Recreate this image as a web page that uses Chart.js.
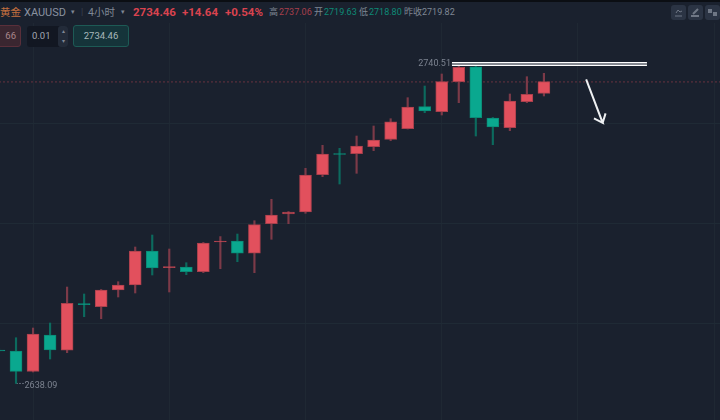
<!DOCTYPE html>
<html lang="zh">
<head>
<meta charset="UTF-8">
<title>XAUUSD 4小时</title>
<script src="https://cdn.jsdelivr.net/npm/chart.js"></script>
<style>
    html, body { margin: 0; padding: 0; background: #1a212e; }
    #wrap { position: relative; width: 720px; height: 420px; overflow: hidden; font-family: Roboto, "Noto Sans CJK SC", sans-serif; }
    #chart { position: absolute; left: 0; top: 0; }
    #head { position: absolute; left: 0; top: 0; width: 720px; height: 23px; background: #1a212e; border-top: 2px solid #0b0e13; box-sizing: border-box; }
    #head span, .box { position: absolute; white-space: nowrap; }
    #head span { top: 4px; font-size: 9px; line-height: 13px; color: #7f8794; }
    #head .big { top: 3px; font-size: 11.5px; line-height: 14px; font-weight: 700; color: #d9434f; }
    #head .up { color: #a83f4c; }
    #head .down { color: #0d8a76; }
    .box { top: 25px; height: 22px; box-sizing: border-box; border-radius: 3px; font-size: 9.5px; line-height: 20px; text-align: center; }
    .icon { position: absolute; top: 3px; width: 15px; height: 15px; border-radius: 3px; background: #2b3444; }
    .icon svg { display: block; }
</style>
</head>
<body>
<div id="wrap">
    <canvas id="chart" width="720" height="420"></canvas>
    <div id="head">
        <span style="left:0;color:#c4703f;font-size:10.5px">黄金</span>
        <span style="left:24px;font-size:11px;color:#8a92a0">XAUUSD</span>
        <span style="left:71px;font-size:7px">▾</span>
        <span style="left:81px;color:#3a4350">|</span>
        <span style="left:88px;font-size:10.5px">4小时</span>
        <span style="left:121px;font-size:7px">▾</span>
        <span class="big" style="left:133px">2734.46</span>
        <span class="big" style="left:182px">+14.64</span>
        <span class="big" style="left:225px">+0.54%</span>
        <span style="left:269px">高</span><span class="up" style="left:279px">2737.06</span>
        <span style="left:314px">开</span><span class="down" style="left:324px">2719.63</span>
        <span style="left:359px">低</span><span class="down" style="left:369px">2718.80</span>
        <span style="left:404px">昨收</span><span style="left:422px">2719.82</span>
        <div class="icon" style="left:671px"><svg width="15" height="15"><path d="M4 11h7M5 8l2-3 2 2 2-1" stroke="#6f7785" fill="none"/></svg></div>
        <div class="icon" style="left:688px"><svg width="15" height="15"><path d="M3 11h8M5 9l5-5" stroke="#6f7785" stroke-width="2" fill="none"/></svg></div>
        <div class="icon" style="left:705px"><svg width="15" height="15"><rect x="3" y="4" width="4" height="4" fill="#6f7785"/><rect x="8" y="7" width="4" height="4" fill="#6f7785"/></svg></div>
    </div>
    <div class="box" style="left:-20px;width:41px;background:#3a2630;border:1px solid #5a2f3a;color:#a9868c;text-align:right;padding-right:4px">66</div>
    <div class="box" style="left:27px;width:41px;top:26px;height:21px;line-height:19px;background:#121722;color:#a3a9b3;text-align:left;padding-left:5px">0.01</div>
    <div class="box" style="left:58px;width:10px;top:26px;height:21px;line-height:10px;background:#232b39;color:#7f8794;font-size:6px">▴<br>▾</div>
    <div class="box" style="left:73px;width:56px;background:#15343a;border:1px solid #1d5a55;color:#a9b8ba">2734.46</div>
</div>
<script>
// candle index, -1 is the half hidden one on the left edge
const candleIndex = [-1, 0, 1, 2, 3, 4, 5, 6, 7, 8, 9, 10, 11, 12, 13, 14, 15, 16, 17, 18, 19, 20, 21, 22, 23, 24, 25, 26, 27, 28, 29, 30, 31];
const opens = [2648.78, 2648.46, 2641.91, 2653.57, 2648.69, 2663.64, 2662.62, 2667.96, 2669.55, 2680.42, 2675.08, 2675.31, 2673.81, 2683.30, 2683.62, 2679.69, 2689.15, 2692.25, 2692.88, 2704.81, 2711.58, 2711.52, 2713.76, 2716.12, 2719.51, 2726.54, 2724.94, 2734.53, 2739.32, 2722.93, 2719.83, 2728.14, 2730.82];
const closes = [2648.46, 2641.97, 2653.89, 2648.78, 2663.71, 2663.26, 2667.96, 2669.55, 2680.42, 2674.99, 2675.47, 2673.81, 2682.98, 2683.62, 2679.69, 2688.83, 2691.93, 2692.88, 2704.71, 2711.42, 2711.26, 2713.98, 2715.90, 2721.74, 2726.44, 2725.17, 2734.53, 2739.13, 2723.02, 2720.05, 2728.36, 2730.50, 2734.53];
const highs = [2649.42, 2652.71, 2655.81, 2657.41, 2668.91, 2666.68, 2668.12, 2670.61, 2681.70, 2685.53, 2681.06, 2676.68, 2683.14, 2685.03, 2685.85, 2690.10, 2696.95, 2693.04, 2706.85, 2714.20, 2713.24, 2717.17, 2720.37, 2722.70, 2729.42, 2733.15, 2736.99, 2740.51, 2740.51, 2723.09, 2730.60, 2736.13, 2737.21];
const lows = [2648.14, 2638.09, 2641.75, 2645.90, 2647.92, 2659.42, 2658.78, 2665.72, 2667.00, 2672.75, 2667.32, 2672.85, 2673.49, 2674.76, 2677.00, 2673.49, 2684.16, 2689.15, 2692.47, 2704.17, 2701.83, 2705.25, 2712.48, 2715.67, 2719.41, 2724.62, 2723.89, 2727.82, 2717.17, 2714.40, 2718.87, 2727.82, 2729.96];

const lastPrice = 2734.46;
const highLabel = "2740.51";
const lowLabel = "2638.09";
const gridPrices = [2753.3, 2721.3, 2689.3, 2657.3];
const gridIndexes = [1, 9, 17, 25, 33, 41];

// hand drawn marks, in candle index / price
const resistanceX = [25.6, 37.05];
const resistanceY = [2740.2, 2740.2];
const arrowX = [33.48, 34.45, 33.94, 34.45, 34.62];
const arrowY = [2735.3, 2721.4, 2722.8, 2721.4, 2724.4];
const lowLeaderX = [0, 0.5];
const lowLeaderY = [2638.09, 2638.09];

const red = "#e2505d", redEdge = "#a9404c", redWick = "#7c3a48";
const green = "#0aa88f", greenEdge = "#0b8a76", greenWick = "#0c6a5e";
const isUp = closes.map((c, i) => c >= opens[i]);

function pairs(xs, ys) {
    return xs.map((x, i) => ({ x: x, y: ys[i] }));
}

const textPlugin = {
    id: "priceText",
    afterDatasetsDraw(chart) {
        const c = chart.ctx, sx = chart.scales.x, sy = chart.scales.y;
        c.save();
        c.font = "9px Roboto";
        c.fillStyle = "#7c8390";
        c.textBaseline = "middle";
        c.textAlign = "right";
        c.fillText(highLabel, sx.getPixelForValue(resistanceX[0]) - 1, sy.getPixelForValue(resistanceY[0]));
        c.textAlign = "left";
        c.fillText(lowLabel, sx.getPixelForValue(lowLeaderX[1]) + 0, sy.getPixelForValue(2638.09) + 2);
        c.restore();
    }
};

new Chart(document.getElementById("chart"), {
    type: "bar",
    data: {
        datasets: [
            {
                data: candleIndex.map((x, i) => ({ x: x, y: [opens[i], closes[i]] })),
                backgroundColor: isUp.map(u => u ? red : green),
                borderColor: isUp.map(u => u ? redEdge : greenEdge),
                borderWidth: 1,
                borderSkipped: false,
                barThickness: 12,
                grouped: false,
                order: 2
            },
            {
                data: candleIndex.map((x, i) => ({ x: x, y: [lows[i], highs[i]] })),
                backgroundColor: isUp.map(u => u ? redWick : greenWick),
                barThickness: 1.5,
                grouped: false,
                order: 3
            },
            {
                type: "line",
                data: pairs([-1, 42], [lastPrice, lastPrice]),
                borderColor: "rgba(170,65,78,0.55)",
                borderWidth: 1,
                borderDash: [2, 2],
                pointRadius: 0,
                order: 4
            },
            {
                type: "line",
                data: pairs(lowLeaderX, lowLeaderY),
                borderColor: "#5f6774",
                borderWidth: 1,
                borderDash: [2, 1],
                pointRadius: 0,
                order: 4
            },
            {
                type: "line",
                data: pairs(resistanceX, resistanceY),
                borderColor: "#ffffff",
                borderWidth: 4,
                pointRadius: 0,
                order: 1
            },
            {
                type: "line",
                data: pairs(resistanceX, resistanceY),
                borderColor: "#5c626c",
                borderWidth: 1.5,
                pointRadius: 0,
                order: 0
            },
            {
                type: "line",
                data: pairs(arrowX, arrowY),
                borderColor: "#eef0f2",
                borderWidth: 2,
                pointRadius: 0,
                order: 1
            }
        ]
    },
    plugins: [textPlugin],
    options: {
        responsive: false,
        animation: false,
        layout: { padding: 0 },
        plugins: { legend: { display: false }, tooltip: { enabled: false } },
        scales: {
            x: {
                type: "linear",
                min: -0.94,
                max: 41.34,
                offset: false,
                display: true,
                afterBuildTicks(axis) { axis.ticks = gridIndexes.map(v => ({ value: v })); },
                ticks: { display: false },
                border: { display: false },
                grid: { offset: false, color: "#1f2833", drawTicks: false }
            },
            y: {
                min: 2626.41,
                max: 2760.64,
                afterBuildTicks(axis) { axis.ticks = gridPrices.map(v => ({ value: v })); },
                ticks: { display: false },
                border: { display: false },
                grid: { color: "#1f2a35", drawTicks: false }
            }
        }
    }
});
</script>
</body>
</html>
